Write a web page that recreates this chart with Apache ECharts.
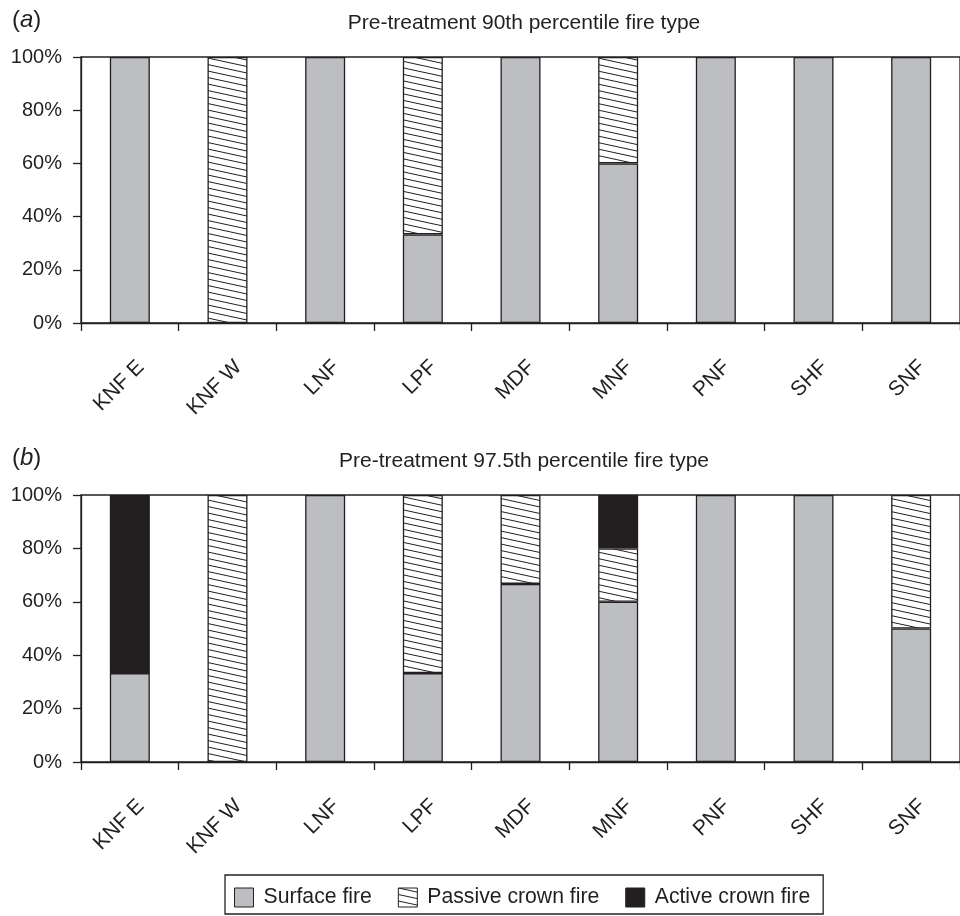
<!DOCTYPE html>
<html><head><meta charset="utf-8">
<script src="https://cdn.jsdelivr.net/npm/echarts@6/dist/echarts.min.js"></script>
<style>html,body{margin:0;padding:0;background:#fff}#c{width:960px;height:916px}</style>
</head><body><div id="c"></div>
<script>
const categories = ['KNF E','KNF W','LNF','LPF','MDF','MNF','PNF','SHF','SNF'];
const yTicks = [0,20,40,60,80,100];
const titleA = 'Pre-treatment 90th percentile fire type';
const titleB = 'Pre-treatment 97.5th percentile fire type';
// panel a
const surfaceA = [100, 0, 100, 33.3, 100, 60, 100, 100, 100];
const passiveA = [0, 100, 0, 66.7, 0, 40, 0, 0, 0];
const activeA  = [0, 0, 0, 0, 0, 0, 0, 0, 0];
// panel b
const surfaceB = [33.3, 0, 100, 33.3, 66.7, 60, 100, 100, 50];
const passiveB = [0, 100, 0, 66.7, 33.3, 20, 0, 0, 50];
const activeB  = [66.7, 0, 0, 0, 0, 20, 0, 0, 0];
const seriesNames = ['Surface fire','Passive crown fire','Active crown fire'];

const ink = '#231f20';
const gray = '#bdbec1';
const font = 'Liberation Sans, Arial, sans-serif';

// hatch pattern
const pc = document.createElement('canvas');
pc.width = 60; pc.height = 13;
const g = pc.getContext('2d');
g.fillStyle = '#fff'; g.fillRect(0,0,60,13);
g.strokeStyle = ink; g.lineWidth = 1;
for (const off of [-13,-6.5,0,6.5,13]) { g.beginPath(); g.moveTo(0,off); g.lineTo(60,off+13); g.stroke(); }
const hatch = {image: pc, repeat: 'repeat'};

const chart = echarts.init(document.getElementById('c'), null, {renderer:'canvas'});
const grids = [{left:81, right:-8, top:57, height:266}, {left:81, right:-8, top:495, height:267}];
function xAx(i){ return {type:'category', gridIndex:i, data:categories,
  axisLine:{lineStyle:{color:ink, width:1.3}},
  axisTick:{show:true, length:8, lineStyle:{color:ink, width:1.3}},
  axisLabel:{rotate:45, fontSize:21, color:ink, fontFamily:font, margin:37,
    align:'right', verticalAlign:'top', padding:[0,-5,0,0]}};}
function yAx(i){ return {type:'value', gridIndex:i, min:0, max:100, interval:20,
  axisLine:{show:true, lineStyle:{color:ink, width:1.3}},
  axisTick:{show:true, length:8, lineStyle:{color:ink, width:1.3}},
  splitLine:{show:false},
  axisLabel:{fontSize:20, color:ink, fontFamily:font, margin:19, formatter: v => yTicks.includes(v) ? v + '%' : ''}};}
const border = {borderColor: ink, borderWidth: 1.3};
function mk(i, name, data, color, stack){
  return {type:'bar', name, xAxisIndex:i, yAxisIndex:i, stack,
    data: data.map(v => v === 0 ? null : v), barWidth:40,
    itemStyle: Object.assign({color}, border), emphasis:{disabled:true}, animation:false};
}
const series = [
  mk(0, seriesNames[0], surfaceA, gray, 'a'),
  mk(0, seriesNames[1], passiveA, hatch, 'a'),
  mk(0, seriesNames[2], activeA, ink, 'a'),
  mk(1, seriesNames[0], surfaceB, gray, 'b'),
  mk(1, seriesNames[1], passiveB, hatch, 'b'),
  mk(1, seriesNames[2], activeB, ink, 'b'),
];
const tStyle = {fontSize:21, fontWeight:'normal', color:ink, fontFamily:font};
const pStyle = {fontSize:24, fontWeight:'normal', color:ink, fontFamily:font,
  rich:{i:{fontStyle:'italic', fontSize:24, color:ink, fontFamily:font}}};
chart.setOption({
  animation:false,
  backgroundColor:'#fff',
  textStyle:{fontFamily:font},
  grid: grids.map(gr => Object.assign({show:true, borderColor:ink, borderWidth:1.3, backgroundColor:'transparent'}, gr)),
  xAxis:[xAx(0), xAx(1)],
  yAxis:[yAx(0), yAx(1)],
  title:[
    {text:titleA, left:524, textAlign:'center', top:13, padding:0, textStyle:tStyle},
    {text:titleB, left:524, textAlign:'center', top:451, padding:0, textStyle:tStyle},
    {text:'({i|a})', left:12, top:8, padding:0, textStyle:pStyle},
    {text:'({i|b})', left:12, top:446, padding:0, textStyle:pStyle}
  ],
  legend:{data:seriesNames, left:225, top:875, orient:'horizontal', icon:'rect',
    itemWidth:19, itemHeight:19, itemGap:26, padding:[12,13,6,9],
    borderColor:ink, borderWidth:1.3, selectedMode:false,
    itemStyle:{borderColor:ink, borderWidth:1},
    textStyle:{fontSize:21.2, color:ink, fontFamily:font, padding:[0,0,0,5]}},
  series
});
</script></body></html>
